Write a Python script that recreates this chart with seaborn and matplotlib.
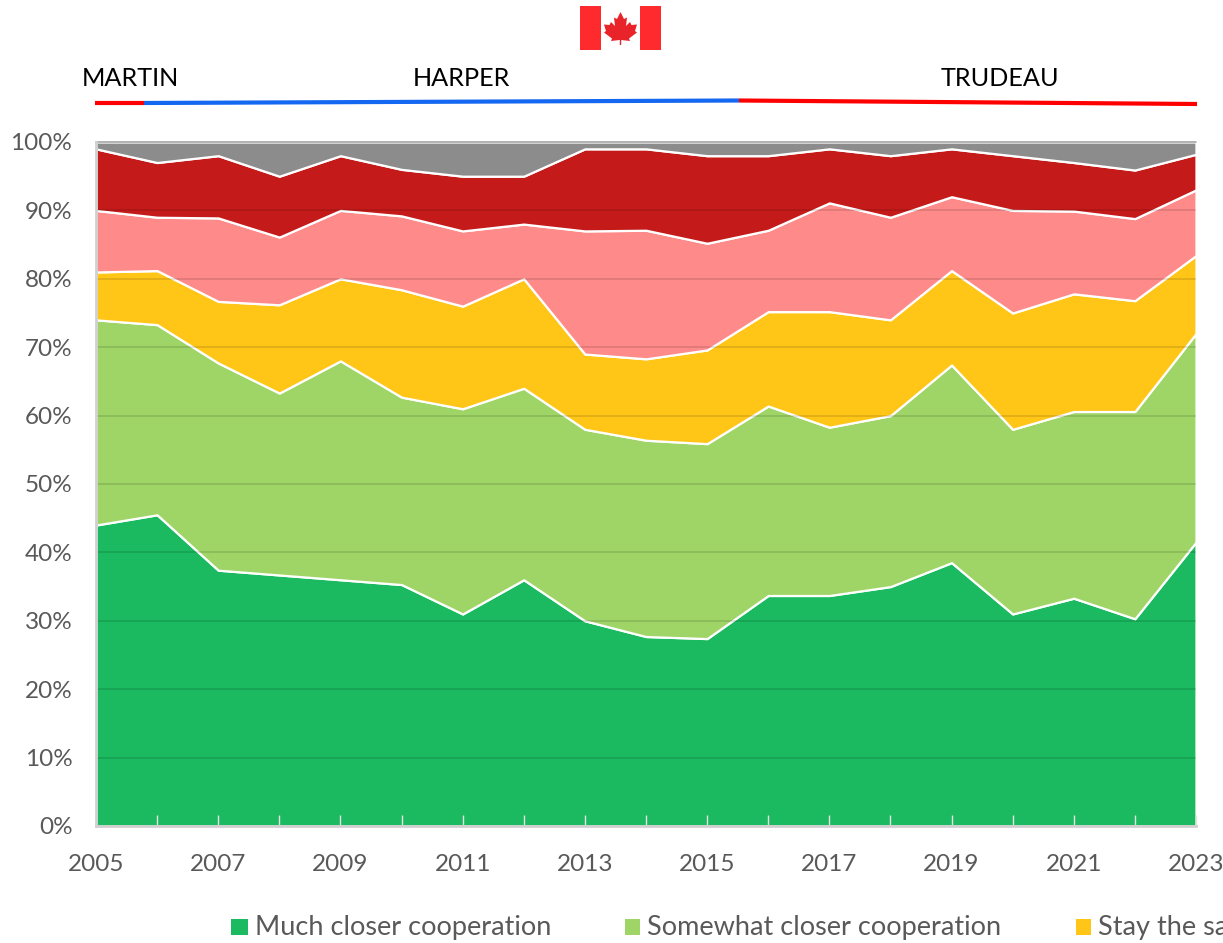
import matplotlib
matplotlib.use("Agg")
import matplotlib.pyplot as plt
import seaborn as sns
from matplotlib.lines import Line2D
from matplotlib.patches import Polygon, Rectangle

years = list(range(2005, 2024))
much_closer = [44, 45.5, 37.4, 36.7, 36, 35.3, 31, 36, 30, 27.7, 27.4, 33.7, 33.7, 35, 38.5, 31, 33.3, 30.3, 41.5]
somewhat_closer = [30, 27.8, 30.3, 26.6, 32, 27.4, 30, 28, 28, 28.7, 28.5, 27.7, 24.6, 25, 28.9, 27, 27.3, 30.3, 30.5]
stay_same = [7, 7.9, 9, 12.9, 12, 15.7, 15, 16, 11, 11.9, 13.7, 13.8, 16.9, 14, 13.8, 17, 17.2, 16.2, 11.4]
somewhat_less = [9, 7.8, 12.2, 9.9, 10, 10.8, 11, 8, 18, 18.8, 15.6, 11.9, 15.9, 15, 10.8, 15, 12.1, 12, 9.6]
much_less = [9, 8, 9.1, 8.9, 8, 6.8, 8, 7, 12, 11.9, 12.8, 10.9, 7.9, 9, 7, 8, 7.1, 7.1, 5.2]
dont_know = [1, 3, 2, 5, 2, 4, 5, 5, 1, 1, 2, 2, 1, 2, 1, 2, 3, 4.1, 1.8]

colors = ["#1BB960", "#9FD566", "#FFC517", "#FF8A8A", "#C41A19", "#8C8C8C"]
legend_names = ["Much closer cooperation", "Somewhat closer cooperation", "Stay the same"]
W, H = 1223, 943
GREY = "#595959"

sns.set_theme(style="white")
plt.rcParams["font.family"] = ["Lato", "DejaVu Sans"]

fig = plt.figure(figsize=(W / 100, H / 100), dpi=100)
ax = fig.add_axes([96 / W, 1 - 826 / H, 1100 / W, 684 / H])


def fx(x):
    return x / W


def fy(y):
    return 1 - y / H


ax.stackplot(years, much_closer, somewhat_closer, stay_same, somewhat_less, much_less, dont_know,
             colors=colors, edgecolor="white", linewidth=1.6, zorder=2)

# gridlines sit on top of the areas, faint
for g in range(10, 100, 10):
    ax.axhline(g, color="black", alpha=0.13, lw=1.2, zorder=3)
ax.axhline(100, color="#A6A6A6", lw=1.2, zorder=4, clip_on=False)

ax.set_axisbelow(False)
ax.set_xlim(2005, 2023)
ax.set_ylim(0, 100)
ax.set_yticks(range(0, 101, 10))
ax.set_yticklabels([f"{v}%" for v in range(0, 101, 10)])
ax.set_xticks(years)
ax.set_xticklabels([str(y) if (y - 2005) % 2 == 0 else "" for y in years])
ax.tick_params(axis="y", length=0, pad=17, labelsize=17.5, labelcolor=GREY)
ax.tick_params(axis="x", length=8, width=1, direction="in", color="#E4E4E4", pad=20,
               labelsize=17.5, labelcolor=GREY, bottom=True)
sns.despine(ax=ax, top=True, right=True)
for side in ["left", "bottom"]:
    ax.spines[side].set_color("#D0D0D0")
    ax.spines[side].set_linewidth(2)
    ax.spines[side].set_zorder(6)

# prime ministers
for name, x, y in [("MARTIN", 130, 78), ("HARPER", 461, 78), ("TRUDEAU", 1000, 78)]:
    fig.text(fx(x), fy(y), name, ha="center", va="center", fontsize=18.2, color="black")
for xs, ys, c in [((95, 144), (103, 103), "#FF0000"),
                  ((144, 739), (103, 100.5), "#1467F0"),
                  ((739, 1197), (100.5, 104), "#FF0000")]:
    fig.add_artist(Line2D([fx(a) for a in xs], [fy(b) for b in ys], color=c, lw=3,
                          solid_capstyle="butt"))

# flag
fig.add_artist(Rectangle((fx(580), fy(50)), 20.5 / W, 44 / H, transform=fig.transFigure, color="#FF2A2D", lw=0))
fig.add_artist(Rectangle((fx(640.5), fy(50)), 20.5 / W, 44 / H, transform=fig.transFigure, color="#FF2A2D", lw=0))
leaf = [(620.5, 12), (624, 19), (627, 17.5), (626, 26), (630, 22), (631.5, 25), (637, 24.5), (635, 31),
        (637, 32.5), (629, 38.5), (630, 41), (621.2, 40), (621.2, 45), (619.8, 45), (619.8, 40), (611, 41),
        (612, 38.5), (604, 32.5), (606, 31), (604, 24.5), (609.5, 25), (611, 22), (615, 26), (614, 17.5), (617, 19)]
fig.add_artist(Polygon([(fx(a), fy(b)) for a, b in leaf], closed=True, transform=fig.transFigure,
                       color="#E8232A", lw=0))

# legend runs off the right edge like the source
for name, c, sx, sw, tx in zip(legend_names, colors, [231, 625, 1076], [17, 15, 15], [255, 647, 1098]):
    fig.add_artist(Rectangle((fx(sx), fy(935)), sw / W, 16 / H, transform=fig.transFigure, color=c, lw=0))
    fig.text(fx(tx), fy(928), name, ha="left", va="center", fontsize=19.5, color=GREY)

fig.savefig("out.png", dpi=100)
